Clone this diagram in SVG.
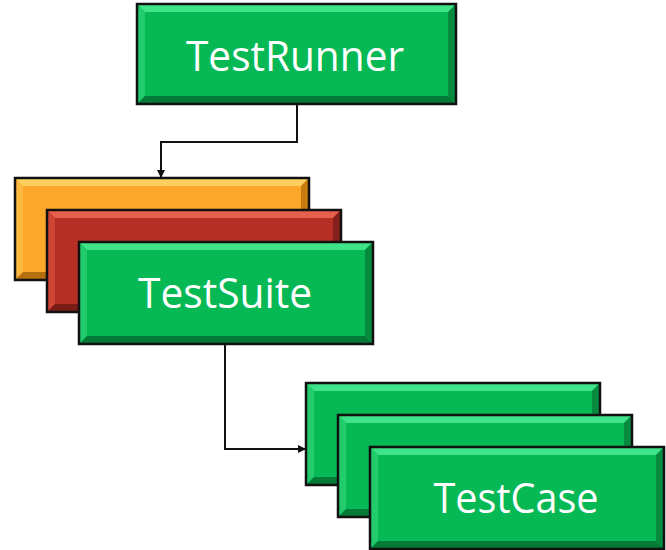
<svg xmlns="http://www.w3.org/2000/svg" width="666" height="550" viewBox="0 0 666 550">
<style>
.green{--face:#06b955;--top:#3ee487;--left:#22cc6c;--right:#058a3e;--bot:#047a36}
.orange{--face:#fca72a;--top:#ffd060;--left:#fdb840;--right:#c77c12;--bot:#b46f0e}
.red{--face:#b62f24;--top:#e6604d;--left:#cc4535;--right:#86201a;--bot:#7a1c16}
.face{fill:var(--face)}.top{fill:var(--top)}.left{fill:var(--left)}.right{fill:var(--right)}.bot{fill:var(--bot)}
.edge{fill:none;stroke:#111;stroke-width:2.5}
.lbl{font-family:"Open Sans","Noto Sans",sans-serif;font-size:42px;fill:#fff;text-anchor:middle}
.conn{fill:none;stroke:#111;stroke-width:2}
</style>
<defs>
<marker id="arr" markerWidth="8" markerHeight="8" refX="7" refY="4" orient="auto" markerUnits="userSpaceOnUse">
<path d="M0,0 L8,4 L0,8 z" fill="#111"/>
</marker>
<g id="box">
<rect class="face" x="0" y="0" width="294" height="102"/>
<polygon class="top" points="0,0 294,0 286,8 8,8"/>
<polygon class="left" points="0,0 8,8 8,94 0,102"/>
<polygon class="right" points="294,0 294,102 286,94 286,8"/>
<polygon class="bot" points="0,102 8,94 286,94 294,102"/>
<rect class="edge" x="0" y="0" width="294" height="102"/>
</g>
</defs>
<g id="connectors">
<path class="conn" d="M297,104 V142 H161 V177" marker-end="url(#arr)"/>
<path class="conn" d="M225,345 V449 H305" marker-end="url(#arr)"/>
</g>
<g id="testrunner" class="green">
<rect class="face" x="137" y="4" width="319" height="100"/>
<polygon class="top" points="137,4 456,4 448,12 145,12"/>
<polygon class="left" points="137,4 145,12 145,96 137,104"/>
<polygon class="right" points="456,4 456,104 448,96 448,12"/>
<polygon class="bot" points="137,104 145,96 448,96 456,104"/>
<rect class="edge" x="137" y="4" width="319" height="100"/>
<text class="lbl" x="295" y="71" textLength="218" lengthAdjust="spacingAndGlyphs">TestRunner</text>
</g>
<g id="suite-back2" class="orange" transform="translate(15,178)"><use href="#box"/></g>
<g id="suite-back1" class="red" transform="translate(47,210)"><use href="#box"/></g>
<g id="testsuite" class="green" transform="translate(79,242)"><use href="#box"/>
<text class="lbl" x="146" y="66" textLength="174" lengthAdjust="spacingAndGlyphs">TestSuite</text></g>
<g id="case-back2" class="green" transform="translate(306,383)"><use href="#box"/></g>
<g id="case-back1" class="green" transform="translate(338,415)"><use href="#box"/></g>
<g id="testcase" class="green" transform="translate(370,447)"><use href="#box"/>
<text class="lbl" x="146" y="66" textLength="165" lengthAdjust="spacingAndGlyphs">TestCase</text></g>
</svg>
